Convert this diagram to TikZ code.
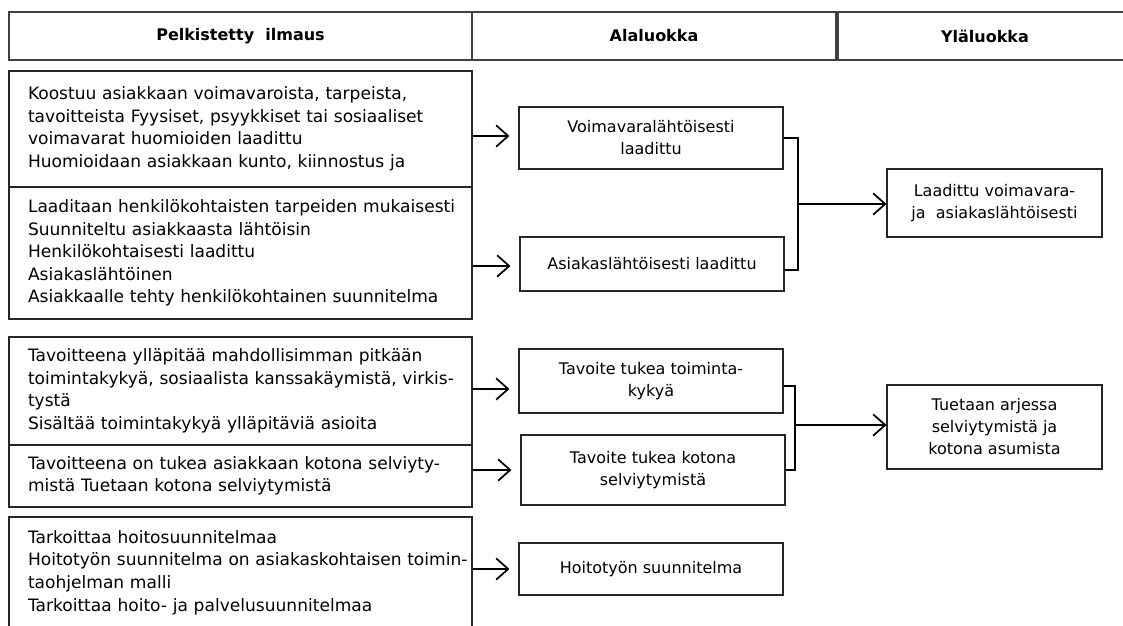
\documentclass[tikz,border=0pt]{standalone}
\usepackage{fontspec}
\setmainfont{DejaVu Sans}
\usetikzlibrary{arrows.meta}

\begin{document}
\begin{tikzpicture}[
  x=0.75pt, y=-0.75pt,
  cell/.style={draw=black!75, line width=0.8pt, minimum height=36pt,
               minimum width=#1, inner sep=0pt,
               font=\fontsize{12}{14}\selectfont\bfseries},
  src/.style={draw=black!85, line width=0.8pt, minimum width=347.25pt,
              minimum height=#1, text width=318.75pt, inner xsep=14.25pt,
              align=left, font=\fontsize{12.8}{16.9}\selectfont},
  sub/.style={draw=black!85, line width=0.8pt, minimum width=198pt,
              minimum height=#1, align=center,
              font=\fontsize{12}{16.5}\selectfont},
  upper/.style={draw=black!85, line width=0.8pt, minimum width=161.25pt,
                minimum height=#1, align=center,
                font=\fontsize{12}{16.5}\selectfont},
  arr/.style={-{Straight Barb[length=9pt,width=16pt]}, line width=1.3pt},
  brk/.style={line width=1pt}
]
  \useasboundingbox (0,0) rectangle (1123,625);

  % header row
  \node[cell=347.25pt] (h1) at (240.5,36) {Pelkistetty~ ilmaus};
  \node[cell=273pt]    (h2) at (654,36)   {Alaluokka};
  \node[cell=220.5pt]  (h3) at (985,36)   {Yläluokka};

  % reduced expressions
  \node[src=87pt] (l1) at (240.5,129) {Koostuu asiakkaan voimavaroista, tarpeista,\\
    tavoitteista Fyysiset, psyykkiset tai sosiaaliset\\
    voimavarat huomioiden laadittu\\
    Huomioidaan asiakkaan kunto, kiinnostus ja};
  \node[src=99pt] (l2) at (240.5,253) {\mbox{Laaditaan henkilökohtaisten tarpeiden mukaisesti}\\
    Suunniteltu asiakkaasta lähtöisin\\
    Henkilökohtaisesti laadittu\\
    Asiakaslähtöinen\\
    Asiakkaalle tehty henkilökohtainen suunnitelma};
  \node[src=81pt] (l3) at (240.5,391) {Tavoitteena ylläpitää mahdollisimman pitkään\\
    \mbox{toimintakykyä, sosiaalista kanssakäymistä, virkis-}\\
    tystä\\
    Sisältää toimintakykyä ylläpitäviä asioita};
  \node[src=46.5pt] (l4) at (240.5,476) {Tavoitteena on tukea asiakkaan kotona selviyty-\\
    mistä Tuetaan kotona selviytymistä};
  \node[src=83.25pt] (l5) at (240.5,572.5) {Tarkoittaa hoitosuunnitelmaa\\
    \mbox{Hoitotyön suunnitelma on asiakaskohtaisen toimin-}\\
    taohjelman malli\\
    Tarkoittaa hoito- ja palvelusuunnitelmaa};

  % subcategories
  \node[sub=46.5pt] (m1) at (651,138) {Voimavaralähtöisesti\\ laadittu};
  \node[sub=40.5pt] (m2) at (652,264) {Asiakaslähtöisesti laadittu};
  \node[sub=48pt]   (m3) at (651,381) {Tavoite tukea toiminta-\\ kykyä};
  \node[sub=52.5pt] (m4) at (653,470) {Tavoite tukea kotona\\ selviytymistä};
  \node[sub=39pt]   (m5) at (651,569) {Hoitotyön suunnitelma};

  % upper categories
  \node[upper=51pt] (r1) at (994.5,203) {Laadittu voimavara-\\ ja~ asiakaslähtöisesti};
  \node[upper=63pt] (r2) at (994.5,427) {Tuetaan arjessa\\ selviytymistä ja\\ kotona asumista};

  % arrows to subcategories
  \path ([yshift=1.5pt]m1.west) coordinate (a1)
        ([yshift=-1.5pt]m2.west) coordinate (a2)
        ([yshift=-6pt]m3.west) coordinate (a3);
  \draw[arr, shorten >=6.75pt] (l1.east |- a1) -- (a1);
  \draw[arr, shorten >=6.75pt] (l2.east |- a2) -- (a2);
  \draw[arr, shorten >=6.75pt] (l3.east |- a3) -- (a3);
  \draw[arr, shorten >=6.75pt] (l4.east |- m4.west) -- (m4.west);
  \draw[arr, shorten >=6.75pt] (l5.east |- m5.west) -- (m5.west);

  % brackets
  \coordinate (j1) at (798,204);
  \coordinate (j2) at (795,425);
  \draw[brk] (m1.east) -| (j1) |- ([yshift=-4.5pt]m2.east);
  \draw[brk] ([yshift=-3.75pt]m3.east) -| (j2) |- (m4.east);
  \draw[arr] (j1) -- (r1.west |- j1);
  \draw[arr] (j2) -- (r2.west |- j2);
\end{tikzpicture}
\end{document}
